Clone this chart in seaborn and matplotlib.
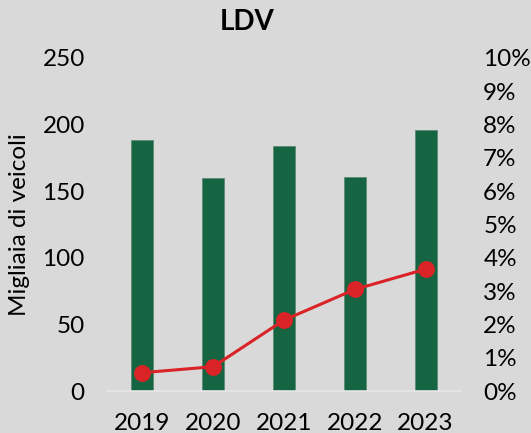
import pandas as pd
import seaborn as sns
import matplotlib.pyplot as plt
from matplotlib.ticker import MultipleLocator, StrMethodFormatter

# values
years = ['2019', '2020', '2021', '2022', '2023']
vehicles = [188.4, 159.9, 183.9, 160.4, 196.2]   # migliaia di veicoli
share = [0.55, 0.73, 2.13, 3.05, 3.66]           # percent, right axis

bg = '#d9d9d9'
green = '#166542'
red = '#d92327'

sns.set_theme(style='white', rc={'axes.facecolor': bg, 'figure.facecolor': bg,
                                 'text.color': 'black', 'axes.labelcolor': 'black',
                                 'xtick.color': 'black', 'ytick.color': 'black'})
plt.rcParams['font.family'] = ['Lato', 'DejaVu Sans']

df = pd.DataFrame({'year': years, 'vehicles': vehicles, 'share': share})

fig = plt.figure(figsize=(5.31, 4.33), dpi=100)
ax = fig.add_axes([107 / 531, 42 / 433, 354 / 531, 333 / 433])

sns.barplot(data=df, x='year', y='vehicles', color=green, width=0.31,
            saturation=1, edgecolor='#5d8a72', linewidth=0.6, ax=ax)
ax.set_xlim(-0.5, 4.5)
ax.set_ylim(0, 250)
ax.yaxis.set_major_locator(MultipleLocator(50))
ax.set_xlabel('')
ax.set_ylabel('Migliaia di veicoli', fontsize=17.5, labelpad=9)
ax.tick_params(axis='both', length=0, labelsize=17.5, pad=16)
for s in ['top', 'left', 'right']:
    ax.spines[s].set_visible(False)
ax.spines['bottom'].set_color('#e6e6e6')
ax.spines['bottom'].set_linewidth(1.2)

ax2 = ax.twinx()
sns.pointplot(data=df, x='year', y='share', color=red, markers='o',
              markersize=10.5, linewidth=2.2, ax=ax2)
ax2.set_xlim(-0.5, 4.5)
ax2.set_ylim(0, 10)
ax2.yaxis.set_major_locator(MultipleLocator(1))
ax2.yaxis.set_major_formatter(StrMethodFormatter('{x:.0f}%'))
ax2.set_ylabel('')
ax2.tick_params(axis='y', length=0, labelsize=17.5, pad=16)
for s in ax2.spines.values():
    s.set_visible(False)

fig.text(247 / 531, 1 - 21.5 / 433, 'LDV', ha='center', va='center',
         fontsize=20, fontweight='bold')

fig.savefig('out.png', dpi=100, facecolor=bg)
